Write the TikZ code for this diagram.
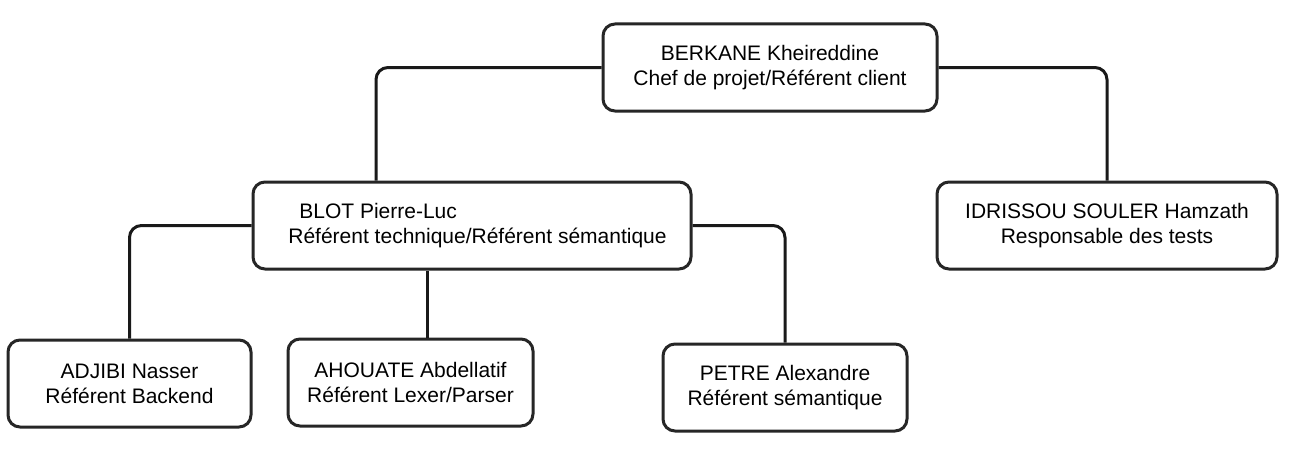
\documentclass[tikz,border=0pt]{standalone}
\usepackage{fontspec}
\setmainfont{Liberation Sans}
\begin{document}
\begin{tikzpicture}[x=1pt,y=-1pt,
  person/.style={draw=black!85, line width=3pt, rounded corners=12pt, fill=white,
    align=center, font=\fontsize{21}{25}\selectfont, inner sep=0pt},
  conn/.style={draw=black!90, line width=3pt, rounded corners=12pt}]
\useasboundingbox[fill=white] (0,0) rectangle (1300,452);
\node[person, minimum width=334pt, minimum height=87pt] (berkane) at (770,67.5)
  {BERKANE Kheireddine\\Chef de projet/Référent client};
\node[person, minimum width=438pt, minimum height=87pt, align=left] (blot) at (472,225.5)
  {\hspace*{22pt}BLOT Pierre-Luc\\\hspace*{11pt}Référent technique/Référent sémantique};
\node[person, minimum width=340pt, minimum height=87pt] (idrissou) at (1107,225.5)
  {IDRISSOU SOULER Hamzath\\Responsable des tests};
\node[person, minimum width=243pt, minimum height=87pt] (adjibi) at (129.5,383.5)
  {ADJIBI Nasser\\Référent Backend};
\node[person, minimum width=245pt, minimum height=87pt] (ahouate) at (410.5,382.5)
  {AHOUATE Abdellatif\\Référent Lexer/Parser};
\node[person, minimum width=244pt, minimum height=87pt] (petre) at (785,387.5)
  {PETRE Alexandre\\Référent sémantique};
\draw[conn] (berkane.west) -| ([xshift=-96pt]blot.north);
\draw[conn] (berkane.east) -| (idrissou.north);
\draw[conn] (blot.west) -| (adjibi.north);
\draw[conn] ([xshift=-45pt]blot.south) -- ([xshift=-45pt]blot.south |- ahouate.north);
\draw[conn] (blot.east) -| (petre.north);
\end{tikzpicture}
\end{document}
